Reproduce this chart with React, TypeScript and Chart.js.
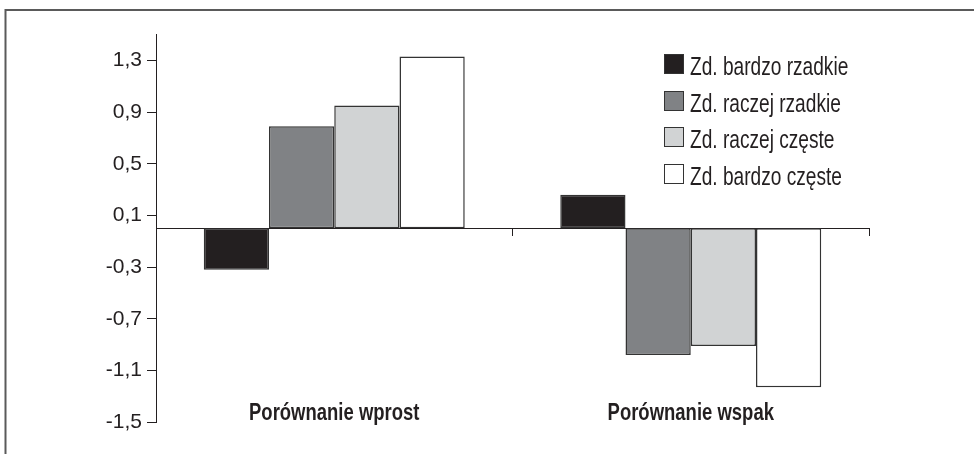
import React, { useEffect, useRef } from "react";
import { Chart, registerables } from "chart.js";

Chart.register(...registerables);

// ---- data ----
const categories = ["Porównanie wprost", "Porównanie wspak"];
const seriesNames = [
  "Zd. bardzo rzadkie",
  "Zd. raczej rzadkie",
  "Zd. raczej częste",
  "Zd. bardzo częste",
];
const bardzoRzadkie = [-0.32, 0.26];
const raczejRzadkie = [0.79, -0.98];
const raczejCzeste = [0.95, -0.91];
const bardzoCzeste = [1.33, -1.23];
const yTickValues = [-1.5, -1.1, -0.7, -0.3, 0.1, 0.5, 0.9, 1.3];
const yMin = -1.5;
const yMax = 1.5;

// ---- styles ----
const seriesColors = ["#231f20", "#808285", "#d1d3d4", "#ffffff"];
const ink = "#231f20";
const FONT = "'Liberation Sans', Arial, sans-serif";

function drawCondensed(
  ctx: CanvasRenderingContext2D,
  text: string,
  x: number,
  y: number,
  sx: number,
  align: CanvasTextAlign
) {
  ctx.save();
  ctx.translate(x, y);
  ctx.scale(sx, 1);
  ctx.textAlign = align;
  ctx.textBaseline = "alphabetic";
  ctx.fillText(text, 0, 0);
  ctx.restore();
}

const decorPlugin = {
  id: "decor",
  beforeDraw(chart: any) {
    const ctx = chart.ctx as CanvasRenderingContext2D;
    ctx.save();
    ctx.fillStyle = "#ffffff";
    ctx.fillRect(0, 0, chart.width, chart.height);
    ctx.strokeStyle = "#5a5a5a";
    ctx.lineWidth = 2;
    ctx.beginPath();
    ctx.moveTo(5.5, chart.height + 4);
    ctx.lineTo(5.5, 10);
    ctx.lineTo(chart.width + 4, 10);
    ctx.stroke();
    ctx.restore();
  },
  afterDraw(chart: any) {
    const ctx = chart.ctx as CanvasRenderingContext2D;
    const area = chart.chartArea;
    const xScale = chart.scales.x;
    // category labels
    ctx.save();
    ctx.fillStyle = ink;
    ctx.font = `bold 24px ${FONT}`;
    chart.data.labels.forEach((lab: string, i: number) => {
      drawCondensed(ctx, lab, xScale.getPixelForValue(i), area.bottom - 2, 0.77, "center");
    });
    ctx.restore();

    // legend
    ctx.save();
    const sqLeft = area.right - 205;
    const top0 = area.top + 19.5;
    const step = 36.5;
    const sq = 20;
    ctx.font = `26px ${FONT}`;
    chart.data.datasets.forEach((ds: any, i: number) => {
      const t = Math.round(top0 + i * step);
      ctx.fillStyle = ds.backgroundColor;
      ctx.fillRect(sqLeft, t, sq, sq);
      ctx.strokeStyle = "#333333";
      ctx.lineWidth = 1;
      ctx.strokeRect(sqLeft + 0.5, t + 0.5, sq - 1, sq - 1);
      ctx.fillStyle = ink;
      drawCondensed(ctx, ds.label, sqLeft + 26, t + 20.5, 0.735, "left");
    });
    ctx.restore();
  },
};

export default function App() {
  const ref = useRef<HTMLCanvasElement | null>(null);

  useEffect(() => {
    if (!ref.current) return;
    const seriesValues = [bardzoRzadkie, raczejRzadkie, raczejCzeste, bardzoCzeste];
    const chart = new Chart(ref.current, {
      type: "bar",
      data: {
        labels: categories,
        datasets: seriesNames.map((name, i) => ({
          label: name,
          data: seriesValues[i],
          backgroundColor: seriesColors[i],
          borderColor: "#333333",
          borderWidth: 1.5,
          borderSkipped: false,
          barPercentage: 1,
          categoryPercentage: 0.732,
        })),
      },
      options: {
        responsive: false,
        animation: false,
        devicePixelRatio: 1,
        layout: { padding: { top: 34.5, bottom: 31.8, left: 0, right: 105 } },
        plugins: {
          legend: { display: false },
          tooltip: { enabled: false },
          title: { display: false },
        },
        scales: {
          x: {
            type: "category",
            position: { y: 0 } as any,
            offset: true,
            afterFit: (s: any) => {
              s.height = 0;
            },
            grid: {
              display: true,
              drawOnChartArea: false,
              drawTicks: true,
              tickLength: 7,
              color: ink,
              lineWidth: 1,
              offset: true,
            },
            border: { display: true, color: ink, width: 1 },
            ticks: { display: false },
          },
          y: {
            type: "linear",
            min: yMin,
            max: yMax,
            afterBuildTicks: (s: any) => {
              s.ticks = yTickValues.map((v) => ({ value: v }));
            },
            afterFit: (s: any) => {
              s.width = 156;
            },
            grid: {
              display: true,
              drawOnChartArea: false,
              drawTicks: true,
              tickLength: 9,
              color: ink,
              lineWidth: 1,
            },
            border: { display: true, color: ink, width: 1 },
            ticks: {
              color: ink,
              padding: 5,
              font: { family: FONT, size: 21 },
              callback: (v: any) => Number(v).toFixed(1).replace(".", ","),
            },
          },
        },
      },
      plugins: [decorPlugin],
    });
    return () => chart.destroy();
  }, []);

  return (
    <div style={{ position: "fixed", left: 0, top: 0, width: 974, height: 454, background: "#fff" }}>
      <canvas ref={ref} width={974} height={454} style={{ display: "block" }} />
    </div>
  );
}
